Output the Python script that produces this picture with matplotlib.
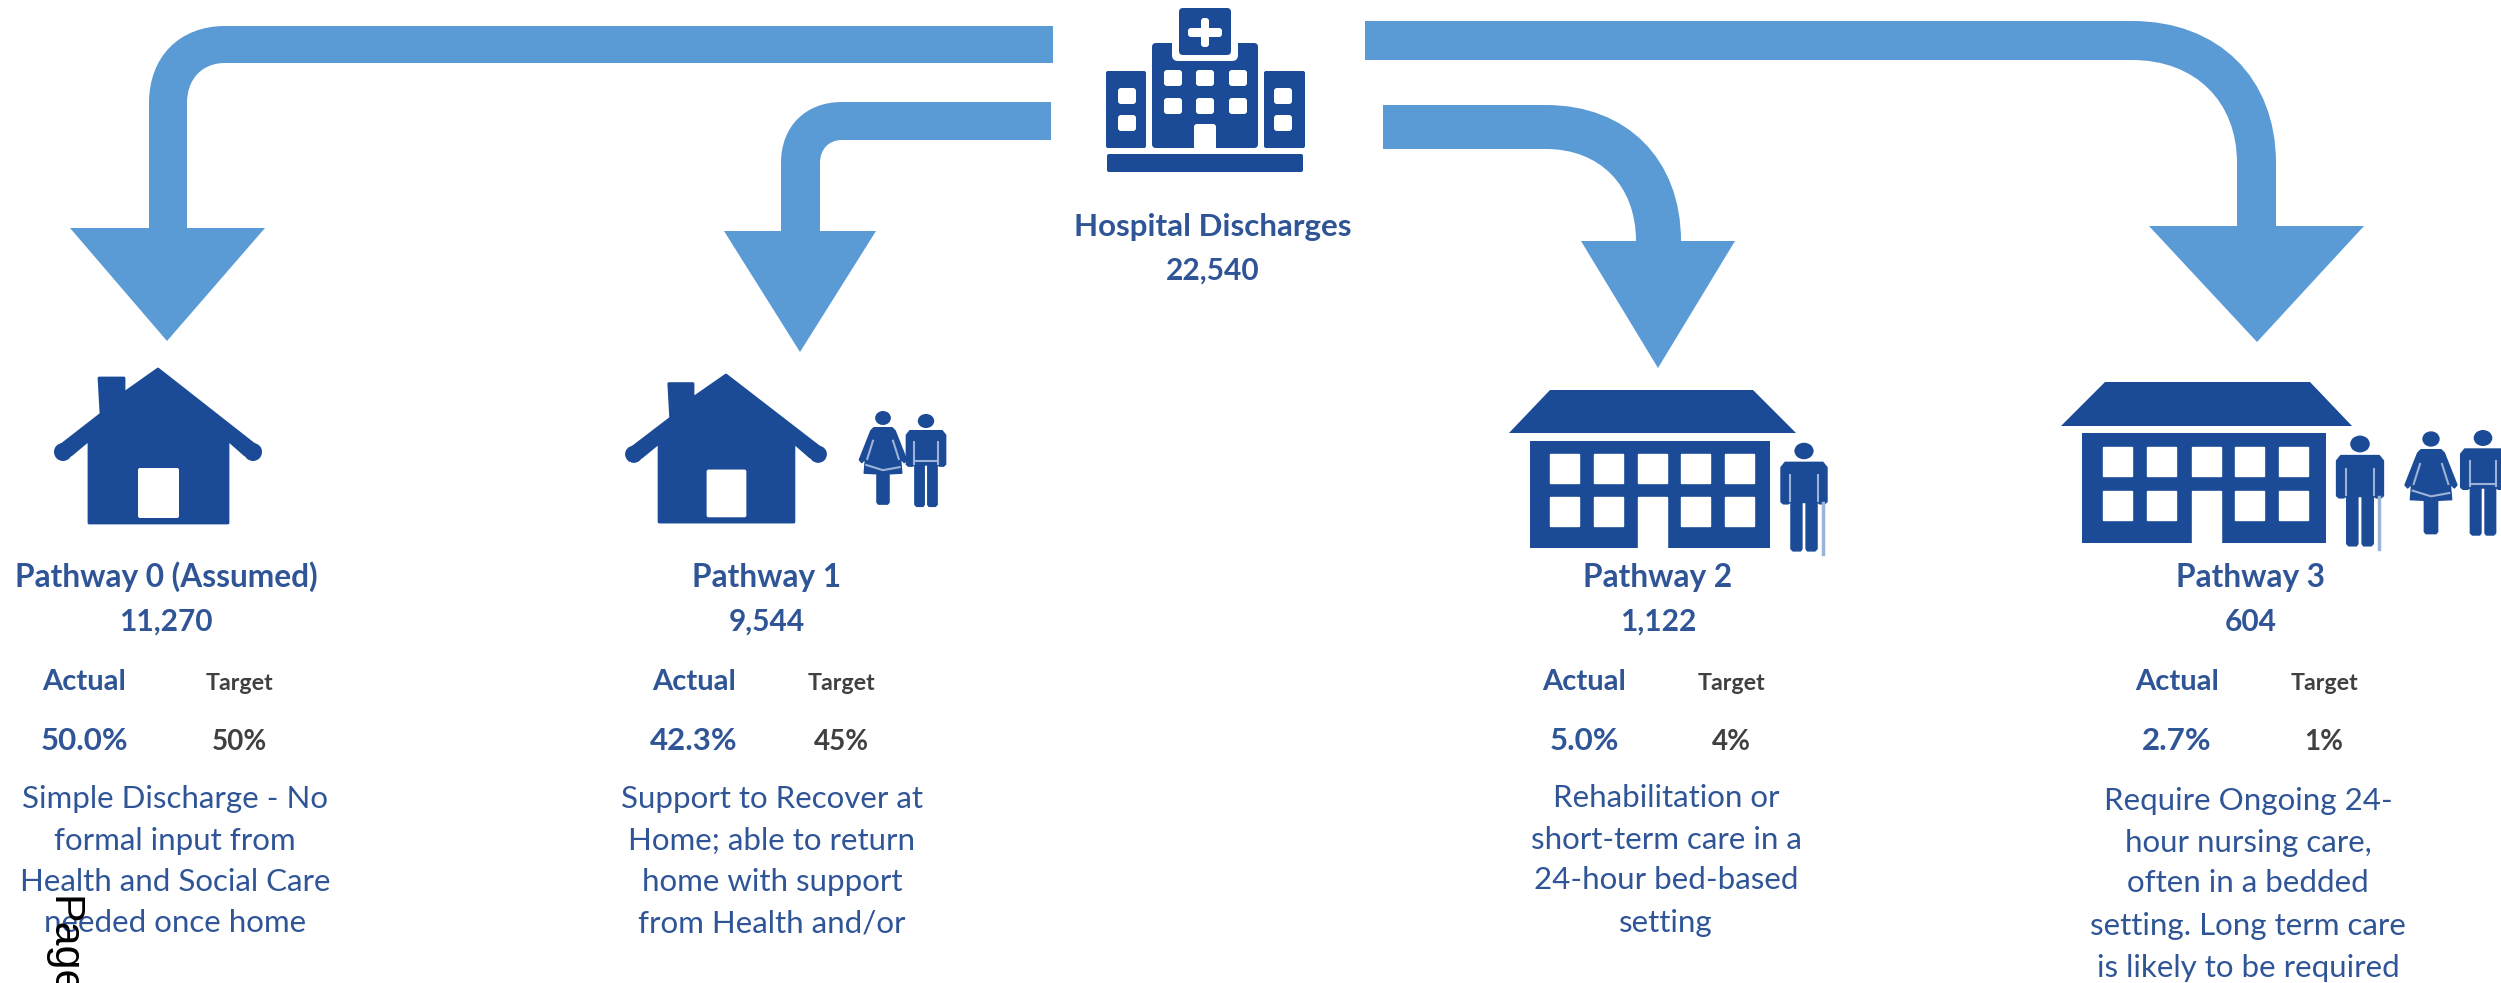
import matplotlib
matplotlib.use('Agg')
import matplotlib.pyplot as plt
from matplotlib.patches import Polygon, Ellipse, FancyBboxPatch, PathPatch
from matplotlib.path import Path

# values shown on the sheet
hospital_label = "Hospital Discharges"
hospital_total = "22,540"
pathways = ["Pathway 0 (Assumed)", "Pathway 1", "Pathway 2", "Pathway 3"]
counts = ["11,270", "9,544", "1,122", "604"]
actual = ["50.0%", "42.3%", "5.0%", "2.7%"]
target = ["50%", "45%", "4%", "1%"]
descriptions = [
    ["Simple Discharge - No", "formal input from", "Health and Social Care", "needed once home"],
    ["Support to Recover at", "Home; able to return", "home with support", "from Health and/or"],
    ["Rehabilitation or", "short-term care in a", "24-hour bed-based", "setting"],
    ["Require Ongoing 24-", "hour nursing care,", "often in a bedded", "setting. Long term care", "is likely to be required"],
]

# layout, in pixels of the sheet
title_x = [166, 767, 1658, 2251]
actual_x = [84, 694, 1584, 2177]
target_x = [239, 841, 1731, 2324]
desc_x = [175, 772, 1666, 2248]
desc_y = [[808, 850, 891, 932], [808, 850, 891, 932], [807, 849, 889, 932], [810, 852, 892, 935, 977]]

DARK = '#1B4A96'
ARROW = '#5B9BD5'
TEXT = '#2F5597'
GREY = '#404040'
PALE = '#9DB4D8'

plt.rcParams['font.family'] = ['Lato', 'DejaVu Sans']

fig = plt.figure(figsize=(25.01, 9.83), dpi=100)
ax = fig.add_axes([0, 0, 1, 1])
ax.set_xlim(0, 2501)
ax.set_ylim(983, 0)
ax.axis('off')


def bent_arrow(start, top, bottom, bend, outer, inner, curve_end, head_y, head_l, head_r, tip_x, tip_y):
    # shaft leaves the hospital sideways, bends down, ends in a triangle head
    mx = 0.6
    pts = [(start, top), (bend, top),
           (bend + (outer - bend) * mx, top), (outer, top + (curve_end - top) * (1 - mx)), (outer, curve_end),
           (outer, head_y), (head_r if outer > start else head_l, head_y), (tip_x, tip_y),
           (head_l if outer > start else head_r, head_y), (inner, head_y), (inner, curve_end),
           (inner, bottom + (curve_end - bottom) * (1 - mx)), (bend + (inner - bend) * mx, bottom), (bend, bottom),
           (start, bottom), (start, top)]
    codes = [Path.MOVETO, Path.LINETO, Path.CURVE4, Path.CURVE4, Path.CURVE4,
             Path.LINETO, Path.LINETO, Path.LINETO, Path.LINETO, Path.LINETO, Path.LINETO,
             Path.CURVE4, Path.CURVE4, Path.CURVE4, Path.LINETO, Path.CLOSEPOLY]
    ax.add_patch(PathPatch(Path(pts, codes), fc=ARROW, ec='none'))


def box(x0, y0, x1, y1, color=DARK, r=3, z=2):
    ax.add_patch(FancyBboxPatch((x0, y0), x1 - x0, y1 - y0, boxstyle=f'round,pad=0,rounding_size={r}',
                                fc=color, ec='none', zorder=z))


def hospital():
    box(1152, 43, 1258, 148, r=4)
    box(1172, 36, 1238, 61, color='white', r=6, z=3)
    box(1179, 8, 1231, 55, r=4, z=4)
    box(1201, 18, 1209, 47, color='white', r=3, z=5)
    box(1188, 28, 1222, 37, color='white', r=3, z=5)
    box(1106, 71, 1146, 148, r=2)
    box(1264, 71, 1305, 148, r=2)
    box(1107, 154, 1303, 172, r=2)
    for wx in [1164, 1196, 1229]:
        for wy in [70, 98]:
            box(wx, wy, wx + 18, wy + 16, color='white', z=3)
    for wx in [1118, 1274]:
        for wy in [88, 115]:
            box(wx, wy, wx + 18, wy + 16, color='white', z=3)
    box(1194, 124, 1216, 150, color='white', z=3)


def house(cx, apex_y, sx, sy):
    # drawn relative to the apex of the roof
    rel = [(0, 0), (-34, 24), (-34, 9), (-59, 9), (-57, 45), (-102, 80), (-87, 86), (-69, 71), (-69, 154),
           (70, 154), (70, 71), (87, 86), (102, 80)]
    pts = [(cx + x * sx, apex_y + y * sy) for x, y in rel]
    ax.add_patch(Polygon(pts, closed=True, fc=DARK, ec=DARK, lw=2, joinstyle='round'))
    for side in (-1, 1):
        ax.add_patch(Ellipse((cx + side * 95 * sx, apex_y + 83 * sy), 18 * sx, 18 * sy, fc=DARK, ec='none'))
    box(cx - 20 * sx, apex_y + 99 * sy, cx + 21 * sx, apex_y + 149 * sy, color='white', r=2, z=3)


def care_home(body_l, body_r, body_top, body_bot, roof_tl, roof_tr, roof_bl, roof_br, roof_top, roof_bot, win_x, win_y):
    ax.add_patch(Polygon([(roof_tl, roof_top), (roof_tr, roof_top), (roof_br, roof_bot), (roof_bl, roof_bot)], fc=DARK, ec='none'))
    box(body_l, body_top, body_r, body_bot, r=0)
    for i, wx in enumerate(win_x):
        for j, wy in enumerate(win_y):
            if i == 2 and j == 1:
                continue
            ax.fill([wx, wx + 29, wx + 29, wx], [wy, wy, wy + 29, wy + 29], color='white', zorder=3)
    ax.fill([win_x[2], win_x[2] + 29, win_x[2] + 29, win_x[2]], [win_y[1], win_y[1], body_bot + 1, body_bot + 1], color='white', zorder=3)


def man(cx, head_y, s, stick=False):
    rel = [(-67, 48), (-55, 33), (55, 33), (67, 48), (67, 148), (60, 154), (46, 154), (38, 148), (38, 285), (32, 291),
           (10, 291), (6, 285), (6, 150), (-6, 150), (-6, 285), (-10, 291), (-32, 291), (-38, 285), (-38, 148),
           (-46, 154), (-60, 154), (-67, 148)]
    k = s / 3
    ax.add_patch(Polygon([(cx + x * k, head_y + y * k) for x, y in rel], fc=DARK, ec=DARK, lw=1, joinstyle='round'))
    ax.add_patch(Ellipse((cx, head_y), 56 * k, 48 * k, fc=DARK, ec='none'))
    for side in (-1, 1):
        ax.plot([cx + side * 40 * k] * 2, [head_y + 70 * k, head_y + 145 * k], color=PALE, lw=1.5, zorder=3)
    if stick:
        ax.plot([cx + 55 * k] * 2, [head_y + 150 * k, head_y + 300 * k], color=PALE, lw=2.5, zorder=3)
    else:
        ax.plot([cx - 38 * k, cx + 38 * k], [head_y + 138 * k] * 2, color=PALE, lw=1.5, zorder=3)


def woman(cx, head_y, s):
    rel = [(-30, 32), (30, 32), (40, 42), (78, 138), (70, 147), (58, 135), (62, 182), (20, 184), (20, 278), (15, 284),
           (-15, 284), (-20, 278), (-20, 184), (-62, 182), (-58, 135), (-70, 147), (-78, 138), (-40, 42)]
    k = s / 3
    ax.add_patch(Polygon([(cx + x * k, head_y + y * k) for x, y in rel], fc=DARK, ec=DARK, lw=1, joinstyle='round'))
    ax.add_patch(Ellipse((cx, head_y), 52 * k, 46 * k, fc=DARK, ec='none'))
    for side in (-1, 1):
        ax.plot([cx + side * 33 * k, cx + side * 52 * k], [head_y + 75 * k, head_y + 135 * k], color=PALE, lw=1.5, zorder=3)
    ax.plot([cx - 55 * k, cx, cx + 55 * k], [head_y + 155 * k, head_y + 172 * k, head_y + 162 * k], color=PALE, lw=1.5, zorder=3)


# arrows
bent_arrow(1053, 26, 63, 225, 149, 187, 103, 228, 70, 265, 167, 341)
bent_arrow(1051, 102, 140, 842, 781, 820, 163, 231, 724, 876, 800, 352)
bent_arrow(1383, 105, 149, 1546, 1681, 1636, 241, 241, 1581, 1735, 1658, 368)
bent_arrow(1365, 21, 60, 2132, 2276, 2237, 163, 226, 2149, 2364, 2257, 342)

# icons
hospital()
house(158, 369, 1.0, 1.0)
house(726, 375, 0.97, 0.955)
woman(883, 418, 0.91)
man(926, 421, 0.88)
care_home(1530, 1770, 441, 548, 1550, 1753, 1509, 1796, 390, 433,
          [1550, 1594, 1638, 1681, 1725], [454, 497])
man(1804, 451, 1.03, stick=True)
care_home(2082, 2326, 433, 543, 2105, 2310, 2061, 2352, 382, 426,
          [2103, 2147, 2192, 2235, 2279], [447, 491])
man(2360, 444, 1.05, stick=True)
woman(2431, 439, 1.0)
man(2483, 438, 1.0)

# centre label
ax.text(1213, 236, hospital_label, ha='center', va='baseline', fontsize=22.6, fontweight='bold', color=TEXT)
ax.text(1213, 280, hospital_total, ha='center', va='baseline', fontsize=21.5, fontweight='bold', color=TEXT)

# one column per pathway
for i in range(4):
    ax.text(title_x[i], 587, pathways[i], ha='center', va='baseline', fontsize=22.8, fontweight='bold', color=TEXT)
    ax.text(title_x[i], 631, counts[i], ha='center', va='baseline', fontsize=21.5, fontweight='bold', color=TEXT)
    ax.text(actual_x[i], 690, "Actual", ha='center', va='baseline', fontsize=21, fontweight='bold', color=TEXT)
    ax.text(target_x[i], 690, "Target", ha='center', va='baseline', fontsize=16.7, fontweight='bold', color=GREY)
    ax.text(actual_x[i], 750, actual[i], ha='center', va='baseline', fontsize=22.5, fontweight='bold', color=TEXT)
    ax.text(target_x[i], 750, target[i], ha='center', va='baseline', fontsize=20, fontweight='bold', color=GREY)
    for line, y in zip(descriptions[i], desc_y[i]):
        ax.text(desc_x[i], y, line, ha='center', va='baseline', fontsize=22.5, color=TEXT)

# stray page label from the source document
ax.text(52, 896, "Page", rotation=270, rotation_mode='anchor', ha='left', va='baseline', fontsize=31,
        family='Liberation Sans', color='black', zorder=6)

plt.savefig('out.png', dpi=100)
